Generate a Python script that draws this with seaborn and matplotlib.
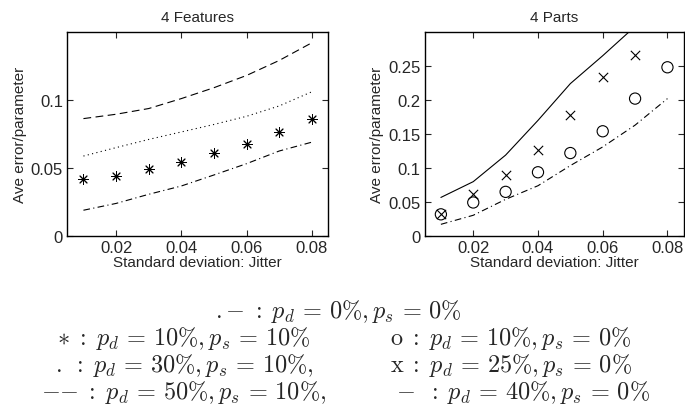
"""
jitter error curves, features vs parts
"""
import numpy as np
import seaborn as sns
import matplotlib
matplotlib.use("Agg")
import matplotlib.pyplot as plt

sns.set_style("white")
plt.rcParams["font.family"] = ["Liberation Sans", "DejaVu Sans"]
plt.rcParams["mathtext.fontset"] = "cm"
plt.rcParams["xtick.direction"] = "in"
plt.rcParams["ytick.direction"] = "in"

jitter = [0.01, 0.02, 0.03, 0.04, 0.05, 0.06, 0.07, 0.08]

# 4 Features
feat_star = [0.0417, 0.0443, 0.0493, 0.0542, 0.0608, 0.0676, 0.0767, 0.086]
feat_dashed = [0.0863, 0.0895, 0.0937, 0.101, 0.109, 0.118, 0.129, 0.142]
feat_dotted = [0.0588, 0.065, 0.071, 0.0765, 0.082, 0.088, 0.0956, 0.106]
feat_dashdot = [0.019, 0.024, 0.0307, 0.0368, 0.0449, 0.0532, 0.0625, 0.069]

# 4 Parts
parts_solid = [0.0568, 0.080, 0.119, 0.170, 0.224, 0.265, 0.308, 0.35]
parts_x = [0.032, 0.0617, 0.0898, 0.127, 0.1775, 0.233, 0.266, np.nan]
parts_o = [0.032, 0.0494, 0.065, 0.0938, 0.122, 0.154, 0.202, 0.248]
parts_dashdot = [0.0173, 0.0306, 0.054, 0.074, 0.1036, 0.131, 0.163, 0.202]

LINE = dict(color="k", linewidth=0.8)

fig = plt.figure(figsize=(6.85, 4.06), dpi=100)
ax1 = fig.add_axes([0.098, 0.416, 0.381, 0.503])
ax2 = fig.add_axes([0.620, 0.416, 0.378, 0.503])

sns.lineplot(x=jitter, y=feat_dashed, ax=ax1, **LINE).lines[-1].set_linestyle((0, (7, 4)))
sns.lineplot(x=jitter, y=feat_dotted, ax=ax1, **LINE).lines[-1].set_linestyle((0, (1, 3)))
sns.lineplot(x=jitter, y=feat_dashdot, ax=ax1, **LINE).lines[-1].set_linestyle((0, (6, 3, 1, 3)))
sns.scatterplot(x=jitter, y=feat_star, ax=ax1, marker=(8, 2, 0), s=50,
                color="k", linewidth=0.7, zorder=3)

sns.lineplot(x=jitter, y=parts_solid, ax=ax2, **LINE)
sns.lineplot(x=jitter, y=parts_dashdot, ax=ax2, **LINE).lines[-1].set_linestyle((0, (6, 3, 1, 3)))
sns.scatterplot(x=jitter, y=parts_x, ax=ax2, marker="x", s=45,
                color="k", linewidth=0.8, zorder=3)
sns.scatterplot(x=jitter, y=parts_o, ax=ax2, marker="o", s=65,
                facecolor="none", edgecolor="k", linewidth=0.8, zorder=3)

for ax, title, ymax, yticks, ylabs in [
        (ax1, "4 Features", 0.15, [0, 0.05, 0.1], ["0", "0.05", "0.1"]),
        (ax2, "4 Parts", 0.30, [0, 0.05, 0.1, 0.15, 0.2, 0.25],
         ["0", "0.05", "0.1", "0.15", "0.2", "0.25"])]:
    ax.set_xlim(0.005, 0.085)
    ax.set_ylim(0, ymax)
    ax.set_xticks([0.02, 0.04, 0.06, 0.08])
    ax.set_xticklabels(["0.02", "0.04", "0.06", "0.08"])
    ax.set_yticks(yticks)
    ax.set_yticklabels(ylabs)
    ax.tick_params(labelsize=12, length=4, width=0.8, pad=3,
                   top=True, right=True, bottom=True, left=True)
    ax.set_title(title, fontsize=11, pad=8)
    ax.set_xlabel("Standard deviation: Jitter", fontsize=11, labelpad=0)
    ax.set_ylabel("Ave error/parameter", fontsize=11, labelpad=3)
    for sp in ax.spines.values():
        sp.set_visible(True)
        sp.set_color("k")
        sp.set_linewidth(1.0)

# legend text under the panels
FS = 17.5
fig.text(338 / 685, 1 - 312 / 406, r"$.{-} \;:\; p_d\,=\,0\%, p_s\,=\,0\%$",
         ha="center", va="center", fontsize=FS)
left_lines = [r"$\ast \;:\; p_d\,=\,10\%, p_s\,=\,10\%$",
              r"$. \;:\; p_d\,=\,30\%, p_s\,=\,10\%,$",
              r"${-}{-} \;:\; p_d\,=\,50\%, p_s\,=\,10\%,$"]
right_lines = [r"$\mathrm{o} \;:\; p_d\,=\,10\%, p_s\,=\,0\%$",
               r"$\mathrm{x} \;:\; p_d\,=\,25\%, p_s\,=\,0\%$",
               r"${-} \;\;:\; p_d\,=\,40\%, p_s\,=\,0\%$"]
rows_y = [339, 366, 393]
right_x = [390, 390, 396]
for yy, lt, rt, rx in zip(rows_y, left_lines, right_lines, right_x):
    fig.text(184 / 685, 1 - yy / 406, lt, ha="center", va="center", fontsize=FS)
    fig.text(rx / 685, 1 - yy / 406, rt, ha="left", va="center", fontsize=FS)

fig.savefig("out.png", dpi=100)
plt.close(fig)
